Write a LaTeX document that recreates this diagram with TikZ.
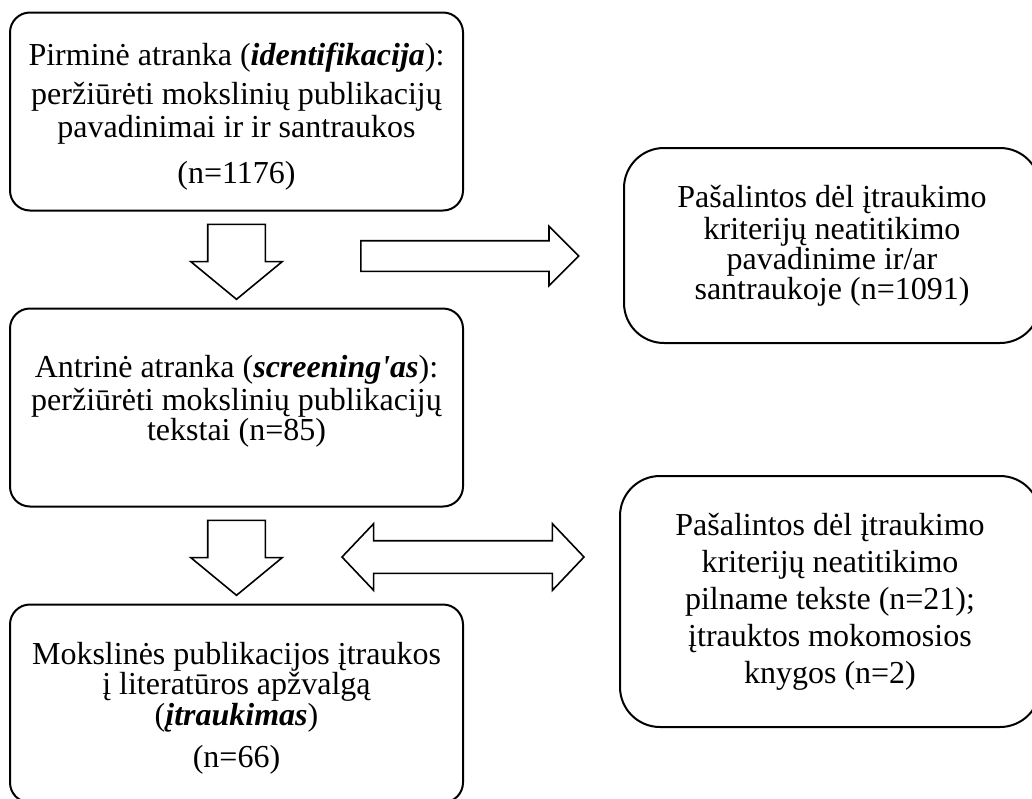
\documentclass[tikz,border=0pt]{standalone}
\usepackage{fontspec}
\setmainfont{Liberation Serif}
\usetikzlibrary{shapes.arrows}

\begin{document}
\begin{tikzpicture}[x=0.5pt,y=-0.5pt,font=\fontsize{16}{15}\selectfont,
                    box/.style={draw,line width=1pt,rounded corners=10pt,align=center,
                                inner sep=0pt,minimum width=226.5pt,minimum height=99pt},
                    sidebox/.style={box,rounded corners=20pt,minimum width=210pt},
                    fat/.style={draw,line width=0.8pt,inner xsep=0pt},
                    down/.style={fat,single arrow,rotate=-90,anchor=tail,
                                 minimum height=37.5pt,inner ysep=14pt,
                                 single arrow head extend=8.5pt,single arrow tip angle=101}]

  \useasboundingbox (0,0) rectangle (1032,798);

  \node[box] (ident) at (236.5,111.5)
       {\rule{0pt}{16pt}Pirminė atranka (\textbf{\textit{identifikacija}}):\\[4.5pt]
        peržiūrėti mokslinių publikacijų\\[1.5pt]
        pavadinimai ir ir santraukos\\[8pt]
        (n=1176)};
  \node[box] (screen) at (236.5,407.5)
       {Antrinė atranka (\textbf{\textit{screening\textquotesingle as}}):\\[1.5pt]
        peržiūrėti mokslinių publikacijų\\
        tekstai (n=85)\rule[-9.3pt]{0pt}{9.3pt}};
  \node[box] (incl) at (236.5,703.5)
       {\rule{0pt}{16pt}Mokslinės publikacijos įtraukos\\
        į literatūros apžvalgą\\[0.5pt]
        (\textbf{\textit{įtraukimas}})\\[6pt]
        (n=66)};

  \node[sidebox,minimum width=208pt,minimum height=97.5pt] (drop1) at (832,245.5)
       {Pašalintos dėl įtraukimo\\[1pt]
        kriterijų neatitikimo\\
        pavadinime ir/ar\\
        santraukoje (n=1091)};
  \node[sidebox,minimum height=125.5pt] (drop2) at (830,601.5)
       {Pašalintos dėl įtraukimo\\[3.5pt]
        kriterijų neatitikimo\\[3.5pt]
        pilname tekste (n=21);\\[3.5pt]
        įtrauktos mokomosios\\[3.5pt]
        knygos (n=2)};

  \node[down] (dn1) at ([yshift=-6pt]ident.south) {};
  \node[down] (dn2) at ([yshift=-6pt]screen.south) {};
  \node[fat,single arrow,anchor=tail,minimum height=109pt,inner ysep=7.25pt,
        single arrow head extend=7.25pt,single arrow tip angle=90] (out1) at (360,256) {};
  \node[fat,double arrow,minimum height=121pt,inner ysep=7.75pt,
        double arrow head extend=8.5pt,double arrow tip angle=93] (out2) at (463,557) {};

\end{tikzpicture}
\end{document}
